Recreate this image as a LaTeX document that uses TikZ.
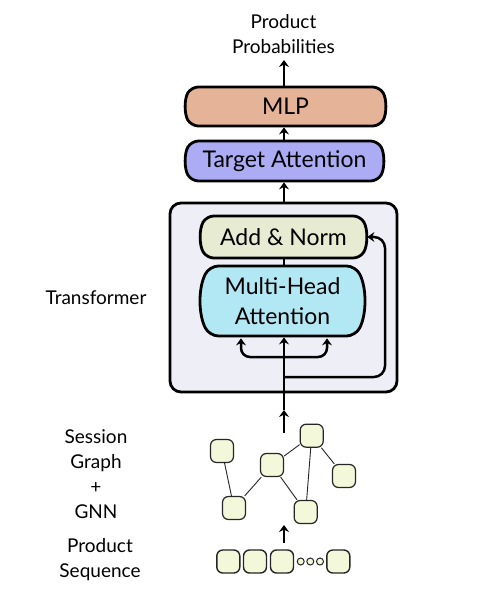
\documentclass[tikz,border=0pt]{standalone}
\usepackage{fontspec}
\setmainfont{Lato}
\usetikzlibrary{shapes.misc,arrows.meta,calc}
\definecolor{mlpc}{HTML}{E5B398}
\definecolor{tac}{HTML}{ACACF5}
\definecolor{addc}{HTML}{E6EBD2}
\definecolor{mhac}{HTML}{B2E8F3}
\definecolor{tfc}{HTML}{EEEEF7}
\definecolor{gnc}{HTML}{F4F8DA}
\begin{document}
\begin{tikzpicture}[x=1pt,y=-1pt,
  blk/.style={rounded rectangle, rounded rectangle arc length=60, rounded corners=7pt,
    draw=black, line width=2.8pt, font=\fontsize{23}{25}\selectfont, align=center, inner sep=0pt},
  tbox/.style={draw=black, line width=2.8pt, fill=tfc, rounded corners=11pt, inner sep=0pt},
  arr/.style={line width=2.5pt, -{Stealth[length=7pt,width=10pt,inset=2.5pt]}},
  ln/.style={line width=2.5pt},
  gn/.style={draw=black!85, line width=1.2pt, fill=gnc, rounded corners=6pt, minimum size=23pt, inner sep=0pt},
  ge/.style={line width=0.9pt, draw=black!85},
  dotn/.style={circle, draw=black!85, line width=1pt, fill=gnc, minimum size=7pt, inner sep=0pt},
  lab/.style={font=\fontsize{19}{25}\selectfont, align=center, inner sep=0pt}]
\useasboundingbox (0,0) rectangle (482,601);
\fill[white] (0,0) rectangle (482,601);
% labels
\node[lab] (pp) at (283.5,34.5) {Product\\Probabilities};
\node[lab] (tl) at (96,298) {Transformer};
\node[lab] (sg) at (96,474.5) {Session\\Graph\\+\\GNN};
\node[lab] (ps) at (100,559.5) {Product\\Sequence};
% boxes
\node[tbox, minimum width=227pt, minimum height=189pt] (tf) at (283.5,297.5) {};
\node[blk, fill=addc, minimum width=165pt, minimum height=42pt] (add) at (283.5,237) {Add \& Norm};
\node[blk, fill=mhac, minimum width=163pt, minimum height=70pt, rounded rectangle arc length=54, rounded corners=9pt,
  label={[font=\fontsize{23}{30}\selectfont, align=center, inner sep=0pt]center:Multi-Head\\Attention}] (mha) at (282.5,301) {};
\node[blk, fill=tac, minimum width=197pt, minimum height=40pt] (ta) at (284.5,161) {Target Attention};
\node[blk, fill=mlpc, minimum width=199pt, minimum height=39pt] (mlp) at (285.5,106.5) {MLP};
% spine coordinates
\coordinate (sp) at (284,0);
\coordinate (outtip) at (284,60);
\coordinate (inlet) at (284,410);
\coordinate (brS) at (284,357);
\coordinate (brL) at (241,357);
\coordinate (brR) at (327,357);
\coordinate (resS) at (284,377);
\coordinate (resC) at (385,377);
\coordinate (gtop) at (284,433);
\coordinate (sqb) at (284,543);
\coordinate (sqt) at (284,525);
% connectors
\draw[arr] (mlp.north -| sp) -- (outtip);
\draw[arr] (ta.north -| sp) -- (mlp.south -| sp);
\draw[arr] (tf.north -| sp) -- (ta.south -| sp);
\draw[ln] (mha.north -| sp) -- (add.south -| sp);
\draw[arr] (inlet) -- (mha.south -| sp);
\draw[arr, rounded corners=9pt] (brS) -| ($(mha.south -| brL)+(0,1)$);
\draw[arr, rounded corners=9pt] (brS) -| ($(mha.south -| brR)+(0,1)$);
\draw[arr, rounded corners=11pt] (resS) -| (resC |- add.east) -- (add.east);
\draw[arr] (gtop) -- (inlet);
\draw[arr] (sqb) -- (sqt);
% graph
\node[gn] (g1) at (311.7,435.7) {};
\node[gn] (g2) at (222,451) {};
\node[gn] (g3) at (272,465) {};
\node[gn] (g4) at (344,476) {};
\node[gn] (g5) at (234,508) {};
\node[gn] (g6) at (305.7,512) {};
\draw[ge] (g2) -- (g5);
\draw[ge] (g5) -- (g3);
\draw[ge] (g3) -- (g1);
\draw[ge] (g3) -- (g6);
\draw[ge] (g1) -- (g6);
\draw[ge] (g1) -- (g4);
% sequence
\node[gn, line width=1.4pt] (s1) at (228.3,561.5) {};
\node[gn, line width=1.4pt] (s2) at (255,561.5) {};
\node[gn, line width=1.4pt] (s3) at (282,561.5) {};
\node[dotn] (d1) at (300.7,561.5) {};
\node[dotn] (d2) at (310.3,561.5) {};
\node[dotn] (d3) at (320,561.5) {};
\node[gn, line width=1.4pt] (s4) at (338.3,561.5) {};
\end{tikzpicture}
\end{document}
